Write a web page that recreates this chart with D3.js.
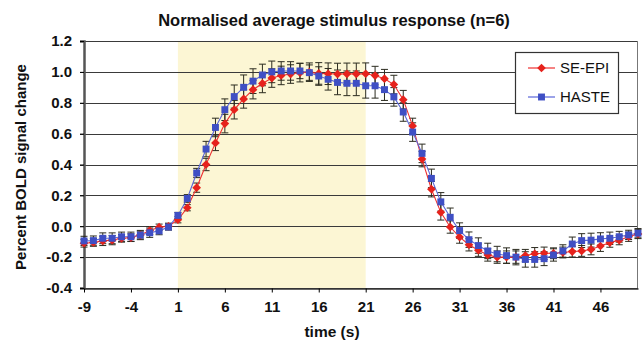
<!DOCTYPE html>
<html>
<head>
<meta charset="utf-8">
<script src="https://cdn.jsdelivr.net/npm/d3@7"></script>
<style>
  body { margin: 0; background: #fff; }
  text { font-family: "Liberation Sans", Arial, sans-serif; }
</style>
</head>
<body>
<div id="chart"></div>
<script>
//Chart data
const times = [-9, -8, -7, -6, -5, -4, -3, -2, -1, 0,
  1, 2, 3, 4, 5, 6, 7, 8, 9, 10,
  11, 12, 13, 14, 15, 16, 17, 18, 19, 20,
  21, 22, 23, 24, 25, 26, 27, 28, 29, 30,
  31, 32, 33, 34, 35, 36, 37, 38, 39, 40,
  41, 42, 43, 44, 45, 46, 47, 48, 49, 50];

const seEpi = [-0.11, -0.105, -0.095, -0.09, -0.078, -0.074, -0.057, -0.028, -0.006, 0.0,
  0.042, 0.12, 0.25, 0.40, 0.54, 0.665, 0.755, 0.825, 0.885, 0.925,
  0.96, 0.977, 0.986, 0.995, 0.998, 0.99, 0.988, 0.986, 0.987, 0.987,
  0.988, 0.976, 0.956, 0.918, 0.82, 0.65, 0.435, 0.24, 0.09, -0.005,
  -0.07, -0.12, -0.155, -0.186, -0.2, -0.2, -0.2, -0.19, -0.178, -0.175,
  -0.175, -0.17, -0.164, -0.16, -0.15, -0.128, -0.106, -0.09, -0.068, -0.05];

const haste = [-0.095, -0.093, -0.078, -0.078, -0.068, -0.068, -0.057, -0.042, -0.03, -0.005,
  0.07, 0.18, 0.345, 0.50, 0.64, 0.755, 0.84, 0.90, 0.94, 0.98,
  1.0, 1.006, 1.006, 1.006, 0.995, 0.973, 0.952, 0.932, 0.926, 0.926,
  0.91, 0.91, 0.885, 0.838, 0.74, 0.61, 0.472, 0.31, 0.158, 0.058,
  -0.028, -0.087, -0.125, -0.16, -0.18, -0.19, -0.2, -0.215, -0.215, -0.21,
  -0.186, -0.16, -0.115, -0.093, -0.09, -0.082, -0.078, -0.068, -0.056, -0.045];

const errEpi = [0.025, 0.025, 0.03, 0.03, 0.025, 0.025, 0.025, 0.025, 0.02, 0.02,
  0.02, 0.02, 0.03, 0.04, 0.05, 0.06, 0.06, 0.06, 0.06, 0.06,
  0.06, 0.06, 0.06, 0.06, 0.06, 0.07, 0.07, 0.07, 0.07, 0.07,
  0.07, 0.06, 0.06, 0.06, 0.06, 0.05, 0.05, 0.05, 0.05, 0.04,
  0.04, 0.04, 0.04, 0.04, 0.04, 0.04, 0.04, 0.04, 0.04, 0.04,
  0.035, 0.035, 0.035, 0.035, 0.035, 0.035, 0.03, 0.03, 0.03, 0.03];

const errHaste = [0.03, 0.03, 0.035, 0.035, 0.03, 0.03, 0.03, 0.03, 0.025, 0.02,
  0.02, 0.025, 0.03, 0.05, 0.06, 0.07, 0.075, 0.08, 0.08, 0.07,
  0.07, 0.06, 0.06, 0.05, 0.05, 0.06, 0.07, 0.08, 0.08, 0.08,
  0.08, 0.08, 0.07, 0.06, 0.06, 0.06, 0.06, 0.06, 0.06, 0.06,
  0.05, 0.05, 0.05, 0.05, 0.05, 0.05, 0.05, 0.05, 0.05, 0.045,
  0.04, 0.04, 0.045, 0.045, 0.045, 0.04, 0.04, 0.035, 0.03, 0.03];

const xTicks = [-9, -4, 1, 6, 11, 16, 21, 26, 31, 36, 41, 46];
const yTicks = [-0.4, -0.2, 0.0, 0.2, 0.4, 0.6, 0.8, 1.0, 1.2];
const stimulus = [1, 21];

const seriesNames = ['SE-EPI', 'HASTE'];

//Layout
const width = 643, height = 343;
const margin = { top: 41, right: 5, bottom: 55, left: 84 };

const svg = d3.select('#chart')
  .append('svg')
  .attr('width', width)
  .attr('height', height);

const x = d3.scaleLinear()
  .domain([-9, 50])
  .range([margin.left, width - margin.right]);

const y = d3.scaleLinear()
  .domain([-0.4, 1.2])
  .range([height - margin.bottom, margin.top]);

//Plain hyphen for negatives, like the original
const hyphen = f => d => f(d).replace('\u2212', '-');

//Stimulus shading
svg.append('rect')
  .attr('x', x(stimulus[0]))
  .attr('y', y(1.2))
  .attr('width', x(stimulus[1]) - x(stimulus[0]))
  .attr('height', y(-0.4) - y(1.2))
  .attr('fill', '#fcf6d4');

//Gridlines
svg.append('g')
  .selectAll('line')
  .data(yTicks)
  .join('line')
  .attr('x1', x(-9) - 4)
  .attr('x2', x(50))
  .attr('y1', d => Math.round(y(d)) + 0.5)
  .attr('y2', d => Math.round(y(d)) + 0.5)
  .attr('stroke', '#3a3a3a')
  .attr('stroke-width', 1.2);

//Right border
svg.append('line')
  .attr('x1', x(50) - 0.5).attr('x2', x(50) - 0.5)
  .attr('y1', y(1.2)).attr('y2', y(-0.4))
  .attr('stroke', '#777');

//Axes
const yAxis = svg.append('g')
  .attr('transform', `translate(${x(-9)},0)`)
  .call(d3.axisLeft(y).tickValues(yTicks).tickFormat(hyphen(d3.format('.1f'))).tickSize(4).tickPadding(8));
yAxis.select('.domain').attr('stroke', '#555').attr('stroke-width', 2.5);
yAxis.selectAll('text').attr('font-size', 15).attr('font-weight', 'bold').attr('fill', '#111');

const xAxis = svg.append('g')
  .attr('transform', `translate(0,${Math.round(y(-0.4)) + 0.5})`)
  .call(d3.axisBottom(x).tickValues(xTicks).tickFormat(hyphen(d3.format('d'))).tickSize(4).tickSizeOuter(0).tickPadding(9));
xAxis.select('.domain').attr('stroke', '#333').attr('stroke-width', 1.5);
xAxis.selectAll('text').attr('font-size', 15).attr('font-weight', 'bold').attr('fill', '#111');

//Error bars
function errorBars(values, errs) {
  const g = svg.append('g').attr('stroke', '#2b2b1f').attr('stroke-width', 1);
  times.forEach((t, i) => {
    const cx = x(t);
    g.append('line')
      .attr('x1', cx).attr('x2', cx)
      .attr('y1', y(values[i] - errs[i])).attr('y2', y(values[i] + errs[i]));
    [values[i] - errs[i], values[i] + errs[i]].forEach(v => {
      g.append('line')
        .attr('x1', cx - 3.5).attr('x2', cx + 3.5)
        .attr('y1', y(v)).attr('y2', y(v));
    });
  });
}
errorBars(seEpi, errEpi);
errorBars(haste, errHaste);

//Lines
const line = d3.line()
  .x((d, i) => x(times[i]))
  .y(d => y(d));

svg.append('path')
  .datum(seEpi)
  .attr('d', line)
  .attr('fill', 'none')
  .attr('stroke', '#ee3030')
  .attr('stroke-width', 1.1);

svg.append('path')
  .datum(haste)
  .attr('d', line)
  .attr('fill', 'none')
  .attr('stroke', '#5a66d8')
  .attr('stroke-width', 1.1);

//Markers
const diamond = d3.symbol().type(d3.symbolDiamond2).size(48);
const square = d3.symbol().type(d3.symbolSquare).size(48);

svg.append('g')
  .selectAll('path')
  .data(seEpi)
  .join('path')
  .attr('d', diamond)
  .attr('transform', (d, i) => `translate(${x(times[i])},${y(d)})`)
  .attr('fill', '#e6221c');

svg.append('g')
  .selectAll('path')
  .data(haste)
  .join('path')
  .attr('d', square)
  .attr('transform', (d, i) => `translate(${x(times[i])},${y(d)})`)
  .attr('fill', '#3f4fc4');

//Legend
const legend = svg.append('g').attr('transform', 'translate(515,52)');
legend.append('rect')
  .attr('x', 0.5).attr('y', 0.5)
  .attr('width', 103).attr('height', 61)
  .attr('fill', '#fff')
  .attr('stroke', '#333')
  .attr('stroke-width', 1.2);

seriesNames.forEach((name, i) => {
  const ly = 16 + i * 29;
  legend.append('line')
    .attr('x1', 13).attr('x2', 40)
    .attr('y1', ly).attr('y2', ly)
    .attr('stroke', i === 0 ? '#ee3030' : '#5a66d8')
    .attr('stroke-width', 1.2);
  legend.append('path')
    .attr('d', i === 0 ? diamond : square)
    .attr('transform', `translate(26.5,${ly})`)
    .attr('fill', i === 0 ? '#e6221c' : '#3f4fc4');
  legend.append('text')
    .attr('x', 45)
    .attr('y', ly + 5)
    .attr('font-size', 15)
    .attr('fill', '#111')
    .text(name);
});

//Titles
svg.append('text')
  .attr('x', 334)
  .attr('y', 26)
  .attr('text-anchor', 'middle')
  .attr('font-size', 16.5)
  .attr('font-weight', 'bold')
  .attr('fill', '#111')
  .text('Normalised average stimulus response (n=6)');

svg.append('text')
  .attr('x', 332)
  .attr('y', 337)
  .attr('text-anchor', 'middle')
  .attr('font-size', 15.5)
  .attr('font-weight', 'bold')
  .attr('fill', '#111')
  .text('time (s)');

svg.append('text')
  .attr('transform', 'translate(26,167) rotate(-90)')
  .attr('text-anchor', 'middle')
  .attr('font-size', 15)
  .attr('font-weight', 'bold')
  .attr('fill', '#111')
  .text('Percent BOLD signal change');
</script>
</body>
</html>
